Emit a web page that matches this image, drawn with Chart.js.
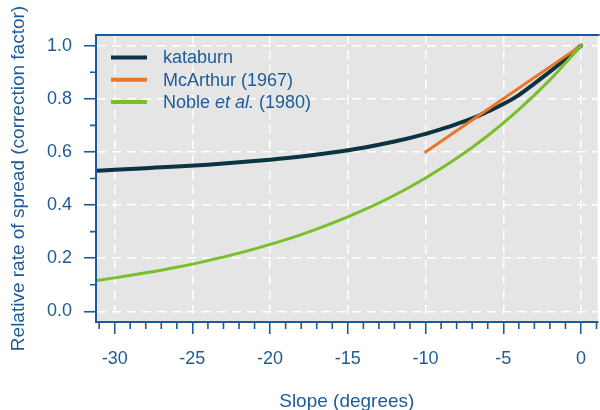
<!DOCTYPE html>
<html>
<head>
<meta charset="utf-8">
<script src="https://cdn.jsdelivr.net/npm/chart.js@4.4.1/dist/chart.umd.min.js"></script>
<style>
  html, body { margin: 0; padding: 0; background: #fff; }
  canvas { display: block; }
</style>
</head>
<body>
<canvas id="chart" width="600" height="410"></canvas>
<script>
// slope (degrees) and correction factors
const kataburnX = [-31.2, -30, -28, -26, -24, -22, -20, -18, -16, -14, -12, -10, -9, -8, -7, -6, -5, -4, -3, -2, -1, 0];
const kataburnY = [0.529, 0.533, 0.539, 0.545, 0.552, 0.561, 0.571, 0.583, 0.598, 0.616, 0.639, 0.668, 0.686, 0.705, 0.726, 0.752, 0.780, 0.814, 0.857, 0.902, 0.950, 1.0];

const mcarthurX = [-10, -5, 0];
const mcarthurY = [0.6, 0.8, 1.0];

const nobleX = [-31.2, -30, -28, -26, -24, -22, -20, -18, -16, -14, -12, -10, -8, -6, -4, -2, 0];
const nobleY = [0.116, 0.126, 0.145, 0.166, 0.191, 0.219, 0.252, 0.289, 0.332, 0.381, 0.437, 0.502, 0.576, 0.661, 0.759, 0.871, 1.0];

const xMajor = [-30, -25, -20, -15, -10, -5, 0];
const xMinor = [-31, -29, -28, -27, -26, -24, -23, -22, -21, -19, -18, -17, -16, -14, -13, -12, -11, -9, -8, -7, -6, -4, -3, -2, -1, 1];
const yMajor = [0, 0.2, 0.4, 0.6, 0.8, 1.0];
const yMinor = [0.1, 0.3, 0.5, 0.7, 0.9];

const blue = '#1d5b98';
const font = 'Liberation Sans, Arial, sans-serif';

const toPoints = (xs, ys) => xs.map((x, i) => ({x: x, y: ys[i]}));

const frame = {
    id: 'frame',
    beforeDraw(chart) {
        const {ctx, chartArea: a} = chart;
        ctx.save();
        ctx.fillStyle = '#e5e5e5';
        ctx.fillRect(a.left, a.top, a.right - a.left, a.bottom - a.top);
        ctx.restore();
    },
    afterDraw(chart) {
        const {ctx, chartArea: a, scales} = chart;
        ctx.save();
        ctx.strokeStyle = blue;
        ctx.lineWidth = 2;
        ctx.beginPath();
        ctx.moveTo(a.left, a.bottom);
        ctx.lineTo(a.left, a.top);
        ctx.lineTo(a.right + 2, a.top);
        ctx.stroke();

        // minor ticks
        ctx.lineWidth = 1.6;
        ctx.beginPath();
        xMinor.forEach(v => {
            const px = scales.x.getPixelForValue(v);
            ctx.moveTo(px, a.bottom);
            ctx.lineTo(px, a.bottom + 7);
        });
        yMinor.forEach(v => {
            const py = scales.y.getPixelForValue(v);
            ctx.moveTo(a.left, py);
            ctx.lineTo(a.left - 6, py);
        });
        ctx.stroke();

        // legend
        const rows = [
            {color: '#0b3442', parts: [['kataburn', false]]},
            {color: '#e8772a', parts: [['McArthur (1967)', false]]},
            {color: '#7abf2a', parts: [['Noble ', false], ['et al.', true], [' (1980)', false]]}
        ];
        ctx.textBaseline = 'middle';
        ctx.textAlign = 'left';
        rows.forEach((r, i) => {
            const y = a.top + 22.5 + i * 22.3;
            ctx.strokeStyle = r.color;
            ctx.lineWidth = 4;
            ctx.beginPath();
            ctx.moveTo(a.left + 15, y);
            ctx.lineTo(a.left + 51, y);
            ctx.stroke();
            let x = a.left + 67;
            ctx.fillStyle = blue;
            r.parts.forEach(([t, it]) => {
                ctx.font = (it ? 'italic ' : '') + '18px ' + font;
                ctx.fillText(t, x, y + 1);
                x += ctx.measureText(t).width;
            });
        });
        ctx.restore();
    }
};

new Chart(document.getElementById('chart'), {
    type: 'line',
    data: {
        datasets: [
            {
                label: 'kataburn',
                data: toPoints(kataburnX, kataburnY),
                borderColor: '#0b3442',
                borderWidth: 4,
                order: 3
            },
            {
                label: 'McArthur (1967)',
                data: toPoints(mcarthurX, mcarthurY),
                borderColor: '#e8772a',
                borderWidth: 3,
                order: 2
            },
            {
                label: 'Noble et al. (1980)',
                data: toPoints(nobleX, nobleY),
                borderColor: '#7abf2a',
                borderWidth: 3,
                order: 1
            }
        ]
    },
    options: {
        responsive: false,
        animation: false,
        events: [],
        elements: {
            point: {radius: 0},
            line: {cubicInterpolationMode: 'monotone', borderCapStyle: 'round'}
        },
        layout: {padding: {top: 35, right: 0, bottom: 0, left: 0}},
        plugins: {
            legend: {display: false},
            tooltip: {enabled: false}
        },
        scales: {
            x: {
                type: 'linear',
                min: -31.2,
                max: 1.07,
                afterBuildTicks: s => { s.ticks = xMajor.map(v => ({value: v})); },
                afterFit: s => { s.height = 88; },
                ticks: {
                    color: blue,
                    font: {family: font, size: 18},
                    padding: 14,
                    maxRotation: 0,
                    callback: v => String(v)
                },
                grid: {
                    color: '#ffffff',
                    lineWidth: 1.5,
                    tickColor: blue,
                    tickWidth: 1.6,
                    tickLength: 12,
                    drawOnChartArea: true
                },
                border: {display: true, color: blue, width: 2, dash: [9, 6]},
                title: {
                    display: true,
                    text: 'Slope (degrees)',
                    color: blue,
                    font: {family: font, size: 19},
                    padding: {top: 0, bottom: -3}
                }
            },
            y: {
                type: 'linear',
                min: -0.04,
                max: 1.04,
                afterBuildTicks: s => { s.ticks = yMajor.map(v => ({value: v})); },
                afterFit: s => { s.width = 96; },
                ticks: {
                    color: blue,
                    font: {family: font, size: 18},
                    padding: 12,
                    callback: v => v.toFixed(1)
                },
                grid: {
                    color: '#ffffff',
                    lineWidth: 1.5,
                    tickColor: blue,
                    tickWidth: 1.6,
                    tickLength: 12
                },
                border: {display: true, color: blue, width: 2, dash: [9, 6]},
                title: {
                    display: true,
                    text: 'Relative rate of spread (correction factor)',
                    color: blue,
                    font: {family: font, size: 19},
                    padding: {top: 7, bottom: 0}
                }
            }
        }
    },
    plugins: [frame]
});
</script>
</body>
</html>
